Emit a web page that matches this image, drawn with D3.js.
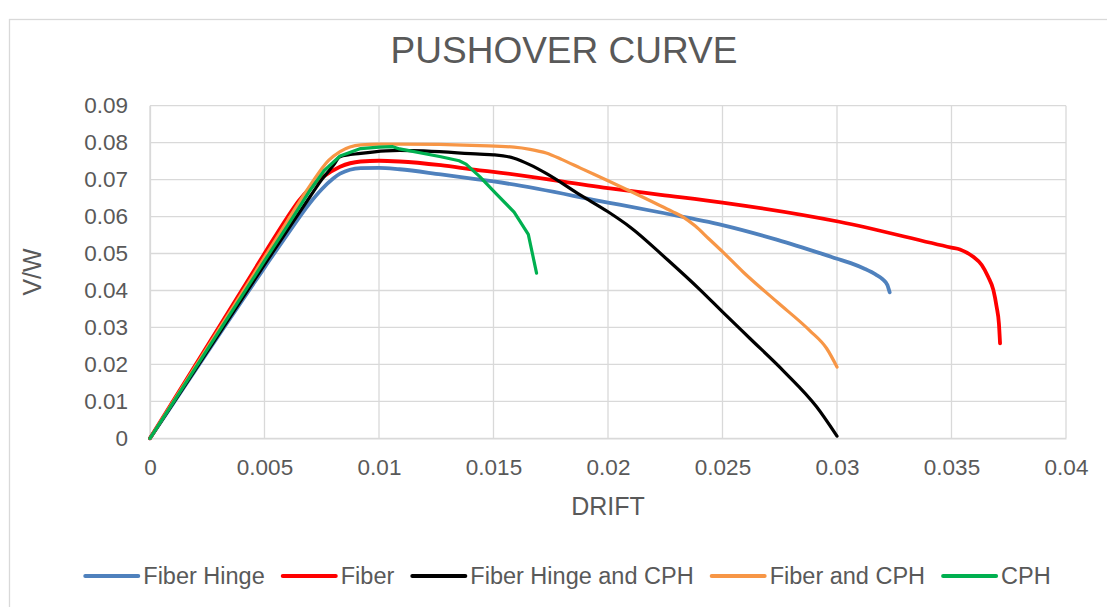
<!DOCTYPE html>
<html>
<head>
<meta charset="utf-8">
<script src="https://cdn.jsdelivr.net/npm/d3@7"></script>
<style>
  html, body { margin: 0; padding: 0; background: #fff; }
  svg { display: block; font-family: "Liberation Sans", Arial, sans-serif; }
</style>
</head>
<body>
<svg id="chart" width="1107" height="607"></svg>
<script>
// ---- data ----
const chartTitle = "PUSHOVER CURVE";
const xTitle = "DRIFT";
const yTitle = "V/W";
const xTicks = [0, 0.005, 0.01, 0.015, 0.02, 0.025, 0.03, 0.035, 0.04];
const xTickLabels = ["0", "0.005", "0.01", "0.015", "0.02", "0.025", "0.03", "0.035", "0.04"];
const yTicks = [0, 0.01, 0.02, 0.03, 0.04, 0.05, 0.06, 0.07, 0.08, 0.09];
const yTickLabels = ["0", "0.01", "0.02", "0.03", "0.04", "0.05", "0.06", "0.07", "0.08", "0.09"];
const seriesNames = ["Fiber Hinge", "Fiber", "Fiber Hinge and CPH", "Fiber and CPH", "CPH"];
const seriesColors = ["#4f81bd", "#ff0000", "#000000", "#f79646", "#00b050"];

const driftFiberHinge = [0, 0.005, 0.006, 0.007, 0.0075, 0.008, 0.0083, 0.0092, 0.0100, 0.0109, 0.0127, 0.0144, 0.015, 0.020, 0.0223, 0.025, 0.0274, 0.0300, 0.0306, 0.0312, 0.0317, 0.0320, 0.0322, 0.0323];
const vwFiberHinge    = [0, 0.0462, 0.0552, 0.0638, 0.0674, 0.0703, 0.0716, 0.0731, 0.0732, 0.0728, 0.0714, 0.0700, 0.0695, 0.0638, 0.0611, 0.0577, 0.0537, 0.0486, 0.0474, 0.0459, 0.0443, 0.0430, 0.0415, 0.0395];

const driftFiber = [0, 0.005, 0.006, 0.0065, 0.007, 0.0075, 0.0083, 0.0092, 0.0100, 0.0109, 0.0127, 0.0144, 0.015, 0.020, 0.0223, 0.025, 0.0301, 0.035, 0.03537, 0.03595, 0.03632, 0.0366, 0.03683, 0.03697, 0.03707, 0.03712];
const vwFiber    = [0, 0.0500, 0.0598, 0.0643, 0.0678, 0.0705, 0.0735, 0.0749, 0.0751, 0.0749, 0.0739, 0.0725, 0.0721, 0.0677, 0.0659, 0.0638, 0.0586, 0.0516, 0.0511, 0.0491, 0.0469, 0.0437, 0.0401, 0.0356, 0.0311, 0.0257];

const driftFiberHingeCPH = [0, 0.005, 0.006, 0.007, 0.0075, 0.008, 0.0083, 0.0092, 0.0103, 0.0109, 0.0144, 0.015, 0.0159, 0.0166, 0.0173, 0.0188, 0.020, 0.021, 0.0226, 0.024, 0.025, 0.0262, 0.0277, 0.0291, 0.0300];
const vwFiberHingeCPH    = [0, 0.0470, 0.0563, 0.0655, 0.0700, 0.0738, 0.0762, 0.0771, 0.0778, 0.0779, 0.0769, 0.0767, 0.0758, 0.0740, 0.0717, 0.0658, 0.0613, 0.0570, 0.0483, 0.0403, 0.0342, 0.0270, 0.0180, 0.0086, 0.0006];

const driftFiberCPH = [0, 0.005, 0.006, 0.007, 0.0078, 0.0083, 0.0092, 0.0100, 0.0109, 0.0144, 0.0159, 0.0166, 0.0173, 0.0180, 0.0188, 0.020, 0.021, 0.022, 0.0228, 0.0233, 0.0238, 0.0244, 0.0250, 0.0259, 0.0274, 0.0288, 0.02955, 0.0300];
const vwFiberCPH    = [0, 0.0490, 0.0588, 0.0685, 0.0752, 0.0776, 0.0794, 0.0796, 0.0796, 0.0792, 0.0788, 0.0782, 0.0772, 0.0754, 0.0731, 0.0697, 0.0668, 0.0638, 0.0614, 0.0598, 0.0575, 0.0540, 0.0505, 0.0450, 0.0368, 0.0292, 0.0243, 0.0193];

const driftCPH = [0, 0.005, 0.006, 0.007, 0.0076, 0.0083, 0.0092, 0.0100, 0.0106, 0.0109, 0.0127, 0.0135, 0.0138, 0.0144, 0.0151, 0.0159, 0.01652, 0.01688];
const vwCPH    = [0, 0.0480, 0.0575, 0.0672, 0.0724, 0.0764, 0.0784, 0.0788, 0.0789, 0.0783, 0.0762, 0.0751, 0.0742, 0.0708, 0.0663, 0.0612, 0.0552, 0.0447];

const seriesDrift = [driftFiberHinge, driftFiber, driftFiberHingeCPH, driftFiberCPH, driftCPH];
const seriesVW = [vwFiberHinge, vwFiber, vwFiberHingeCPH, vwFiberCPH, vwCPH];

// ---- layout ----
const svg = d3.select("#chart");
const plot = { left: 150, right: 1066, top: 105.7, bottom: 438.3 };
const textColor = "#595959";
const gridColor = "#d9d9d9";
const fontFam = "'Liberation Sans', Arial, sans-serif";

// outer chart border
svg.append("rect")
  .attr("x", 9.5).attr("y", 19.5)
  .attr("width", 1120).attr("height", 620)
  .attr("fill", "none").attr("stroke", gridColor).attr("stroke-width", 1.3);

const x = d3.scaleLinear().domain([0, 0.04]).range([plot.left, plot.right]);
const y = d3.scaleLinear().domain([0, 0.09]).range([plot.bottom, plot.top]);

// gridlines
const grid = svg.append("g");
grid.selectAll("line.v").data(xTicks).join("line")
  .attr("x1", d => x(d)).attr("x2", d => x(d))
  .attr("y1", plot.top).attr("y2", plot.bottom)
  .attr("stroke", gridColor).attr("stroke-width", 1.3);
grid.selectAll("line.h").data(yTicks).join("line")
  .attr("x1", plot.left).attr("x2", plot.right)
  .attr("y1", d => y(d)).attr("y2", d => y(d))
  .attr("stroke", gridColor).attr("stroke-width", 1.3);

// axes
const xAxis = d3.axisBottom(x).tickValues(xTicks)
  .tickFormat((d, i) => xTickLabels[i]).tickSize(0).tickPadding(21);
const gx = svg.append("g").attr("transform", `translate(0,${plot.bottom})`).call(xAxis);
gx.select(".domain").attr("stroke", gridColor).attr("stroke-width", 1.3);
gx.selectAll("text").attr("fill", textColor).style("font-size", "22.5px").style("font-family", fontFam);

const yAxis = d3.axisLeft(y).tickValues(yTicks)
  .tickFormat((d, i) => yTickLabels[i]).tickSize(0).tickPadding(22);
const gy = svg.append("g").attr("transform", `translate(${plot.left},0)`).call(yAxis);
gy.select(".domain").attr("stroke", gridColor).attr("stroke-width", 1.3);
gy.selectAll("text").attr("fill", textColor).style("font-size", "22.5px").style("font-family", fontFam);

// series lines
const line = d3.line().x(d => x(d[0])).y(d => y(d[1]));
const widths = [3.8, 3.8, 3.2, 3.2, 3.2];
seriesNames.forEach((name, i) => {
  const pts = seriesDrift[i].map((d, j) => [d, seriesVW[i][j]]);
  svg.append("path")
    .datum(pts)
    .attr("fill", "none")
    .attr("stroke", seriesColors[i])
    .attr("stroke-width", widths[i])
    .attr("stroke-linejoin", "round")
    .attr("stroke-linecap", "round")
    .attr("d", line.curve(name === "CPH" ? d3.curveLinear : d3.curveMonotoneX));
});

// titles
svg.append("text").attr("x", 564).attr("y", 63)
  .attr("text-anchor", "middle").attr("fill", textColor)
  .style("font-size", "37px").text(chartTitle);
svg.append("text").attr("x", x(0.02)).attr("y", 515)
  .attr("text-anchor", "middle").attr("fill", textColor)
  .style("font-size", "25px").text(xTitle);
svg.append("text")
  .attr("transform", `translate(41,${(plot.top + plot.bottom) / 2}) rotate(-90)`)
  .attr("text-anchor", "middle").attr("fill", textColor)
  .style("font-size", "25px").text(yTitle);

// legend
const legend = svg.append("g");
let cx = 0;
seriesNames.forEach((name, i) => {
  const g = legend.append("g");
  g.append("line").attr("x1", 0).attr("x2", 53).attr("y1", 0).attr("y2", 0)
    .attr("stroke", seriesColors[i]).attr("stroke-width", 4).attr("stroke-linecap", "round");
  const t = g.append("text").attr("x", 58).attr("y", 8).attr("fill", textColor)
    .style("font-size", "23.5px").text(name);
  const w = 58 + t.node().getComputedTextLength();
  g.attr("transform", `translate(${cx},576)`);
  cx += w + 18;
});
const total = cx - 18;
legend.attr("transform", `translate(${568 - total / 2},0)`);
</script>
</body>
</html>
